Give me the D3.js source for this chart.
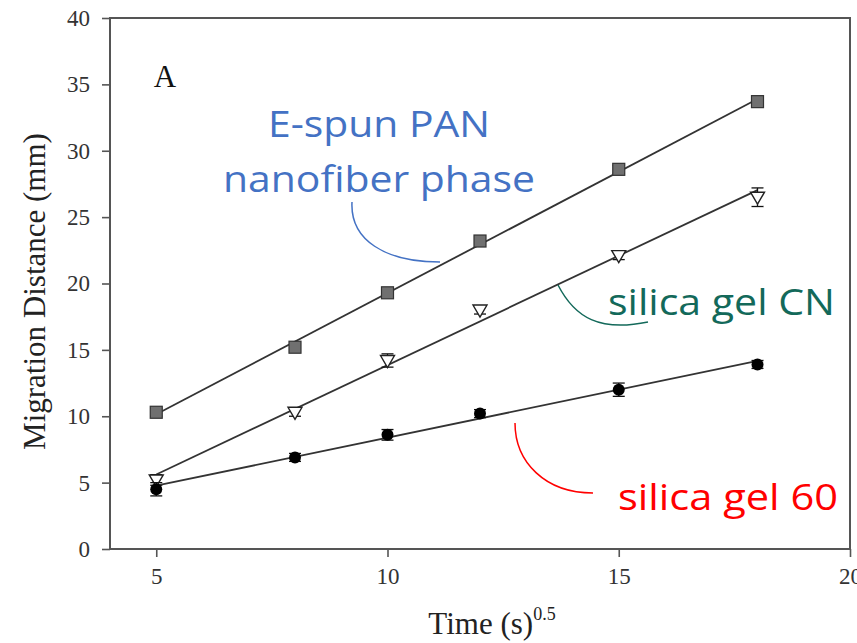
<!DOCTYPE html>
<html>
<head>
<meta charset="utf-8">
<script src="https://cdn.jsdelivr.net/npm/d3@7"></script>
<style>
  body { margin: 0; background: #fff; }
  svg { display: block; }
</style>
</head>
<body>
<script>
var width = 857;
var height = 643;

// time^0.5 values shared by all three series
var times = [5, 8, 10, 12, 15, 18];

var panValues = [10.3, 15.2, 19.3, 23.2, 28.6, 33.7];
var panErrors = [0.3, 0.3, 0.3, 0.3, 0.3, 0.3];

var cnValues = [5.2, 10.3, 14.2, 18.0, 22.1, 26.5];
var cnErrors = [0.4, 0.3, 0.5, 0.3, 0.3, 0.7];

var gel60Values = [4.5, 6.9, 8.6, 10.2, 12.0, 13.9];
var gel60Errors = [0.5, 0.3, 0.4, 0.3, 0.5, 0.3];

var xTicks = [5, 10, 15, 20];
var yTicks = [0, 5, 10, 15, 20, 25, 30, 35, 40];

var svg = d3.select('body').append('svg')
            .attr('width', width)
            .attr('height', height);

var x = d3.scaleLinear().domain([4, 20]).range([110, 850]);
var y = d3.scaleLinear().domain([0, 40]).range([549, 18]);

var serif = '"Liberation Serif", "Times New Roman", serif';
var sans = '"Open Sans", "Noto Sans", sans-serif';
var axisColor = '#555';

// axes
var yAxis = svg.append('g')
    .attr('transform', 'translate(' + x(4) + ',0)')
    .call(d3.axisLeft(y).tickValues(yTicks).tickSize(8).tickPadding(12));

var xAxis = svg.append('g')
    .attr('transform', 'translate(0,' + y(0) + ')')
    .call(d3.axisBottom(x).tickValues(xTicks).tickSize(8).tickPadding(11));

[yAxis, xAxis].forEach(function(a) {
  a.select('.domain').remove();
  a.selectAll('line').attr('stroke', axisColor).attr('stroke-width', 1.6);
  a.selectAll('text')
    .attr('fill', '#333')
    .style('font-family', serif)
    .style('font-size', '23px');
});

// frame
svg.append('rect')
    .attr('x', x(4))
    .attr('y', y(40))
    .attr('width', x(20) - x(4))
    .attr('height', y(0) - y(40))
    .attr('fill', 'none')
    .attr('stroke', axisColor)
    .attr('stroke-width', 2);

// axis titles
svg.append('text')
    .attr('transform', 'translate(45,' + ((y(0) + y(40)) / 2 + 8) + ') rotate(-90)')
    .attr('text-anchor', 'middle')
    .attr('fill', '#222')
    .style('font-family', serif)
    .style('font-size', '31px')
    .text('Migration Distance (mm)');

var xt = svg.append('text')
    .attr('x', 492)
    .attr('y', 634)
    .attr('text-anchor', 'middle')
    .attr('fill', '#222')
    .style('font-family', serif)
    .style('font-size', '31px');
xt.append('tspan').text('Time (s)');
xt.append('tspan').attr('dy', -14).style('font-size', '18px').text('0.5');

// panel letter
svg.append('text')
    .attr('x', 165)
    .attr('y', 87)
    .attr('text-anchor', 'middle')
    .attr('fill', '#111')
    .style('font-family', serif)
    .style('font-size', '31px')
    .text('A');

// least squares fit
function fit(xs, ys) {
  var mx = d3.mean(xs), my = d3.mean(ys);
  var sxy = d3.sum(xs, function(d, i) { return (d - mx) * (ys[i] - my); });
  var sxx = d3.sum(xs, function(d) { return (d - mx) * (d - mx); });
  var b = sxy / sxx;
  return function(v) { return my + b * (v - mx); };
}

var series = [
  { values: panValues, errors: panErrors, shape: 'square' },
  { values: cnValues, errors: cnErrors, shape: 'triangle' },
  { values: gel60Values, errors: gel60Errors, shape: 'circle' }
];

var line = d3.line()
    .x(function(d) { return x(d[0]); })
    .y(function(d) { return y(d[1]); });

series.forEach(function(s) {
  var f = fit(times, s.values);
  var x0 = d3.min(times), x1 = d3.max(times);
  svg.append('path')
      .attr('d', line([[x0, f(x0)], [x1, f(x1)]]))
      .attr('fill', 'none')
      .attr('stroke', '#333')
      .attr('stroke-width', 1.8);

  var pts = times.map(function(t, i) { return { t: t, v: s.values[i], e: s.errors[i] }; });
  var g = svg.append('g');

  // error bars
  var eb = g.selectAll('g.err').data(pts).enter().append('g').attr('class', 'err')
      .attr('stroke', '#111').attr('stroke-width', 1.3);
  eb.append('line')
      .attr('x1', function(d) { return x(d.t); })
      .attr('x2', function(d) { return x(d.t); })
      .attr('y1', function(d) { return y(d.v - d.e); })
      .attr('y2', function(d) { return y(d.v + d.e); });
  [-1, 1].forEach(function(sign) {
    eb.append('line')
        .attr('x1', function(d) { return x(d.t) - 6; })
        .attr('x2', function(d) { return x(d.t) + 6; })
        .attr('y1', function(d) { return y(d.v + sign * d.e); })
        .attr('y2', function(d) { return y(d.v + sign * d.e); });
  });

  // markers
  if (s.shape === 'square') {
    g.selectAll('rect').data(pts).enter().append('rect')
        .attr('x', function(d) { return x(d.t) - 6; })
        .attr('y', function(d) { return y(d.v) - 6; })
        .attr('width', 12).attr('height', 12)
        .attr('fill', '#707070').attr('stroke', '#333').attr('stroke-width', 1.2);
  } else if (s.shape === 'triangle') {
    g.selectAll('path.tri').data(pts).enter().append('path')
        .attr('class', 'tri')
        .attr('d', function(d) {
          var cx = x(d.t), cy = y(d.v);
          return 'M' + (cx - 7) + ',' + (cy - 5) + 'L' + (cx + 7) + ',' + (cy - 5) + 'L' + cx + ',' + (cy + 7) + 'Z';
        })
        .attr('fill', '#fff').attr('stroke', '#222').attr('stroke-width', 1.4);
  } else {
    g.selectAll('circle').data(pts).enter().append('circle')
        .attr('cx', function(d) { return x(d.t); })
        .attr('cy', function(d) { return y(d.v); })
        .attr('r', 6)
        .attr('fill', '#000');
  }
});

// call-out labels
var labels = [
  { text: 'E-spun PAN', x: 268, y: 137, len: 222, color: '#4472C4' },
  { text: 'nanofiber phase', x: 223, y: 192, len: 312, color: '#4472C4' },
  { text: 'silica gel CN', x: 608, y: 315, len: 227, color: '#13695A' },
  { text: 'silica gel 60', x: 618, y: 510, len: 220, color: '#FF0000' }
];

svg.selectAll('text.callout').data(labels).enter().append('text')
    .attr('class', 'callout')
    .attr('x', function(d) { return d.x; })
    .attr('y', function(d) { return d.y; })
    .attr('textLength', function(d) { return d.len; })
    .attr('lengthAdjust', 'spacingAndGlyphs')
    .attr('fill', function(d) { return d.color; })
    .style('font-family', sans)
    .style('font-size', '36px')
    .text(function(d) { return d.text; });

var curves = [
  { d: 'M352,202 C350,240 385,262 440,262', color: '#4472C4' },
  { d: 'M558,285 C575,318 600,332 648,322', color: '#13695A' },
  { d: 'M515,423 C515,462 545,493 593,493', color: '#FF0000' }
];

svg.selectAll('path.curve').data(curves).enter().append('path')
    .attr('class', 'curve')
    .attr('d', function(d) { return d.d; })
    .attr('fill', 'none')
    .attr('stroke', function(d) { return d.color; })
    .attr('stroke-width', 1.5);
</script>
</body>
</html>
